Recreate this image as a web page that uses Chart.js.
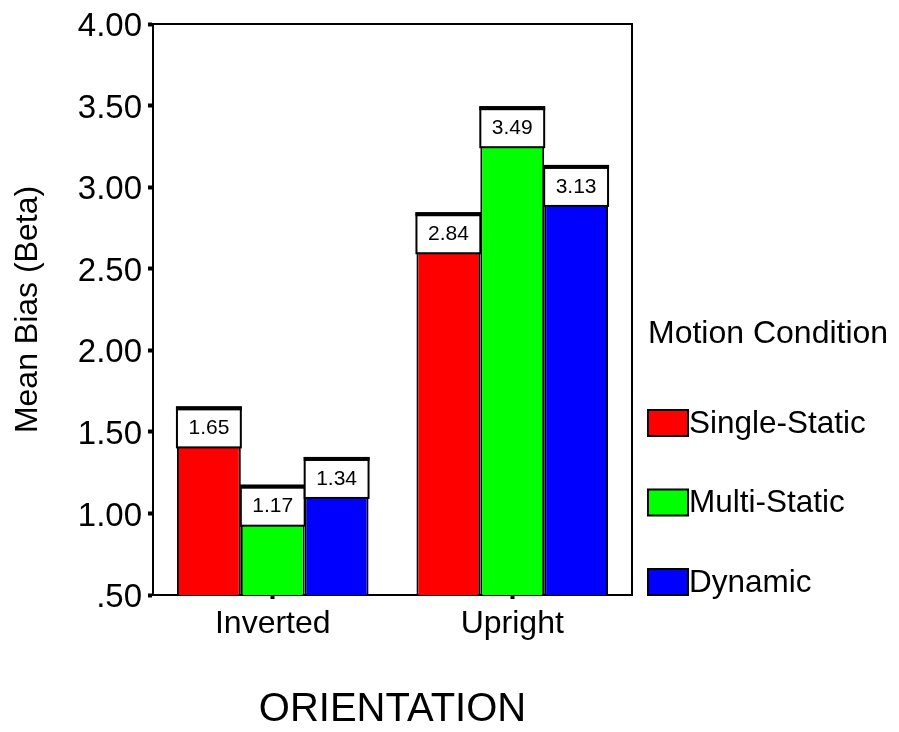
<!DOCTYPE html>
<html>
<head>
<meta charset="utf-8">
<script src="https://cdn.jsdelivr.net/npm/chart.js@4/dist/chart.umd.min.js"></script>
<style>
  html, body { margin: 0; padding: 0; background: #fff; }
  #wrap { width: 899px; height: 732px; position: relative; }
</style>
</head>
<body>
<div id="wrap"><canvas id="c" width="899" height="732"></canvas></div>
<script>
const categories = ['Inverted', 'Upright'];
const seriesNames = ['Single-Static', 'Multi-Static', 'Dynamic'];
const singleStatic = [1.65, 2.84];
const multiStatic = [1.17, 3.49];
const dynamicVals = [1.34, 3.13];
const seriesColors = ['#ff0000', '#00ff00', '#0000ff'];
const yTickLabels = ['.50', '1.00', '1.50', '2.00', '2.50', '3.00', '3.50', '4.00'];
const xTitle = 'ORIENTATION';
const yTitle = 'Mean Bias (Beta)';
const legendTitle = 'Motion Condition';

const FONT = '"Liberation Sans", Arial, Helvetica, sans-serif';

const valueBoxes = {
  id: 'valueBoxes',
  afterDatasetsDraw(chart) {
    const ctx = chart.ctx;
    ctx.save();
    chart.data.datasets.forEach((ds, di) => {
      const meta = chart.getDatasetMeta(di);
      meta.data.forEach((bar, i) => {
        const w = bar.width;
        const left = bar.x - w / 2;
        const top = bar.y;
        const h = 40;
        ctx.fillStyle = '#fff';
        ctx.fillRect(left, top, w, h);
        ctx.strokeStyle = '#000';
        ctx.lineWidth = 2;
        ctx.strokeRect(left, top, w, h);
        ctx.fillStyle = '#000';
        ctx.fillRect(left - 1, top - 1, w + 2, 4);
        ctx.font = '21px ' + FONT;
        ctx.textAlign = 'center';
        ctx.textBaseline = 'middle';
        ctx.fillText(ds.data[i].toFixed(2), bar.x, top + 21);
      });
    });
    ctx.restore();
  }
};

const frame = {
  id: 'frame',
  afterDraw(chart) {
    const {ctx, chartArea: a} = chart;
    ctx.save();
    ctx.strokeStyle = '#000';
    ctx.lineWidth = 2;
    ctx.beginPath();
    ctx.moveTo(a.left, a.top);
    ctx.lineTo(a.right, a.top);
    ctx.lineTo(a.right, a.bottom);
    ctx.stroke();
    ctx.restore();
  }
};

const sideLegend = {
  id: 'sideLegend',
  afterDraw(chart) {
    const ctx = chart.ctx;
    ctx.save();
    ctx.fillStyle = '#000';
    ctx.textAlign = 'left';
    ctx.textBaseline = 'middle';
    ctx.font = '32px ' + FONT;
    ctx.fillText(legendTitle, 648, 334);
    const x0 = 648, sw = 40, sh = 26;
    chart.data.datasets.forEach((ds, i) => {
      const cy = 423 + i * 79.5;
      ctx.fillStyle = ds.backgroundColor;
      ctx.fillRect(x0, cy - sh / 2, sw, sh);
      ctx.strokeStyle = '#000';
      ctx.lineWidth = 2;
      ctx.strokeRect(x0, cy - sh / 2, sw, sh);
      ctx.fillStyle = '#000';
      ctx.font = '31.5px ' + FONT;
      ctx.fillText(ds.label, x0 + sw + 1, cy + 1);
    });
    ctx.restore();
  }
};

const seriesData = [singleStatic, multiStatic, dynamicVals];

new Chart(document.getElementById('c'), {
  type: 'bar',
  data: {
    labels: categories,
    datasets: seriesNames.map((name, i) => ({
      label: name,
      data: seriesData[i],
      backgroundColor: seriesColors[i],
      borderColor: '#000',
      borderWidth: 2,
      borderSkipped: false,
      categoryPercentage: 0.8,
      barPercentage: 1.0
    }))
  },
  options: {
    responsive: false,
    animation: false,
    devicePixelRatio: 1,
    layout: { padding: { left: 0, top: 24, right: 267, bottom: 0 } },
    plugins: { legend: { display: false }, tooltip: { enabled: false } },
    scales: {
      x: {
        afterFit(scale) { scale.height = 137; },
        grid: { display: true, drawOnChartArea: false, offset: false, color: '#000', tickLength: 4, tickWidth: 4 },
        border: { display: true, color: '#000', width: 2 },
        ticks: { color: '#000', font: { family: FONT, size: 32 }, padding: 6, maxRotation: 0 },
        title: { display: true, text: xTitle, color: '#000', font: { family: FONT, size: 40, lineHeight: 1 }, padding: { top: 0, bottom: 2 } }
      },
      y: {
        min: 0.5, max: 4.0,
        afterFit(scale) { scale.width = 153; },
        afterBuildTicks(scale) {
          scale.ticks = yTickLabels.map((t, i) => ({ value: 0.5 + i * 0.5 }));
        },
        grid: { display: true, drawOnChartArea: false, color: '#000', tickLength: 5, tickWidth: 4 },
        border: { display: true, color: '#000', width: 2 },
        ticks: {
          color: '#000', font: { family: FONT, size: 33, lineHeight: 1 }, padding: 6, labelOffset: 3,
          callback: (v, i) => yTickLabels[i]
        },
        title: { display: true, text: yTitle, color: '#000', font: { family: FONT, size: 32, lineHeight: 1 }, padding: { top: 12, bottom: 0 } }
      }
    }
  },
  plugins: [valueBoxes, frame, sideLegend]
});
</script>
</body>
</html>
